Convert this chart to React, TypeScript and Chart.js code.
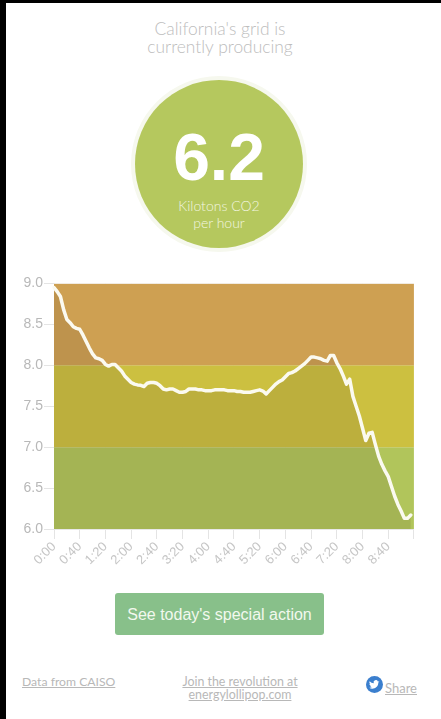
import React, { useEffect, useRef } from "react";
import { Chart, registerables } from "chart.js";

Chart.register(...registerables);

const timeLabels = [
  "0:00","0:05","0:10","0:15","0:20","0:25","0:30","0:35","0:40","0:45","0:50","0:55",
  "1:00","1:05","1:10","1:15","1:20","1:25","1:30","1:35","1:40","1:45","1:50","1:55",
  "2:00","2:05","2:10","2:15","2:20","2:25","2:30","2:35","2:40","2:45","2:50","2:55",
  "3:00","3:05","3:10","3:15","3:20","3:25","3:30","3:35","3:40","3:45","3:50","3:55",
  "4:00","4:05","4:10","4:15","4:20","4:25","4:30","4:35","4:40","4:45","4:50","4:55",
  "5:00","5:05","5:10","5:15","5:20","5:25","5:30","5:35","5:40","5:45","5:50","5:55",
  "6:00","6:05","6:10","6:15","6:20","6:25","6:30","6:35","6:40","6:45","6:50","6:55",
  "7:00","7:05","7:10","7:15","7:20","7:25","7:30","7:35","7:40","7:45","7:50","7:55",
  "8:00","8:05","8:10","8:15","8:20","8:25","8:30","8:35","8:40","8:45","8:50","8:55",
  "9:00","9:05","9:10","9:15","9:20",
];

const co2Values = [
  8.95,8.9,8.84,8.68,8.56,8.52,8.47,8.45,8.44,8.37,8.29,8.21,
  8.14,8.09,8.08,8.06,8.01,7.99,8.01,8.01,7.97,7.93,7.87,7.83,
  7.79,7.77,7.76,7.755,7.74,7.78,7.79,7.79,7.78,7.75,7.71,7.7,
  7.71,7.71,7.69,7.67,7.67,7.68,7.71,7.71,7.71,7.7,7.7,7.69,
  7.69,7.69,7.7,7.7,7.7,7.7,7.69,7.69,7.69,7.68,7.68,7.67,
  7.67,7.67,7.68,7.69,7.7,7.685,7.65,7.69,7.73,7.77,7.8,7.82,
  7.86,7.9,7.91,7.93,7.96,7.99,8.02,8.06,8.1,8.1,8.09,8.08,
  8.06,8.05,8.12,8.12,8.03,7.96,7.87,7.77,7.83,7.62,7.5,7.38,
  7.23,7.08,7.17,7.18,7.03,6.89,6.79,6.71,6.64,6.52,6.4,6.3,
  6.22,6.13,6.13,6.17,
];

const bandTops = [9, 8, 7];
const bandColors = ["#cea052", "#ccc040", "#b1c55b"];
const yTicks = [6, 6.5, 7, 7.5, 8, 8.5, 9];

export default function App() {
  const ref = useRef<HTMLCanvasElement>(null);
  useEffect(() => {
    document.body.style.margin = "0";
    document.body.style.background = "#fff";
    const bands = bandTops.map((top, i) => ({
      type: "line" as const,
      data: timeLabels.map(() => top),
      borderWidth: 0,
      pointRadius: 0,
      backgroundColor: bandColors[i],
      fill: i === bandTops.length - 1 ? "start" : "+1",
      order: 5,
    }));
    const chart = new Chart(ref.current!, {
      type: "line",
      data: {
        labels: timeLabels,
        datasets: [
          {
            data: co2Values,
            borderColor: "#fbfaf0",
            borderWidth: 3.5,
            borderJoinStyle: "round",
            borderCapStyle: "round",
            pointRadius: 0,
            tension: 0,
            fill: "start",
            backgroundColor: "rgba(70,60,40,0.12)",
            order: 1,
          },
          ...bands,
        ] as any,
      },
      options: {
        animation: false,
        responsive: false,
        layout: { padding: 0 },
        plugins: { legend: { display: false }, tooltip: { enabled: false } },
        scales: {
          x: {
            offset: false,
            afterFit: (s: any) => { s.height = 65; },
            border: { color: "rgba(0,0,0,0.06)" },
            grid: {
              color: "rgba(0,0,0,0.02)",
              tickColor: "#e4e4e4",
              tickLength: 10,
            },
            ticks: {
              autoSkip: false,
              maxRotation: 45,
              minRotation: 45,
              padding: 0,
              color: "#c6c6c6",
              font: { family: "'Liberation Sans'", size: 13 },
              callback: (_v: any, i: number) =>
                i === timeLabels.length - 1 ? "" : i % 8 === 0 ? timeLabels[i] : null,
            },
          },
          y: {
            min: 6,
            max: 9,
            afterFit: (s: any) => { s.width = 44; },
            afterBuildTicks: (s: any) => { s.ticks = yTicks.map((value) => ({ value })); },
            border: { color: "rgba(0,0,0,0.05)" },
            grid: {
              color: "rgba(0,0,0,0.04)",
              tickColor: "#e4e4e4",
              tickLength: 10,
            },
            ticks: {
              padding: 1,
              color: "#b8b8b8",
              font: { family: "'Liberation Sans'", size: 14 },
              callback: (v: any) => Number(v).toFixed(1),
            },
          },
        },
      },
    });
    return () => chart.destroy();
  }, []);

  const raleway = "Lato, 'Open Sans', sans-serif";
  const abs = (o: React.CSSProperties): React.CSSProperties => ({ position: "absolute", ...o });
  const center = (y: number, cx: number, size: number, color: string, extra: React.CSSProperties = {}): React.CSSProperties =>
    abs({ left: cx - 150, width: 300, top: y - size, height: size * 2, lineHeight: `${size * 2}px`, textAlign: "center", fontSize: size, color, fontFamily: raleway, ...extra });

  return (
    <div style={{ position: "relative", width: 441, height: 719, overflow: "hidden", background: "#fff", filter: "blur(0.5px)" }}>
      <div style={center(29, 220, 17.4, "#bdbdbd", { fontWeight: 300 })}>California's grid is</div>
      <div style={center(47, 220, 17.4, "#bdbdbd", { fontWeight: 300 })}>currently producing</div>
      <div style={abs({ left: 131, top: 76, width: 176, height: 176, borderRadius: "50%", background: "#f6f8ee" })} />
      <div style={abs({ left: 135, top: 80, width: 168, height: 168, borderRadius: "50%", background: "#b5c85e" })} />
      <div style={center(157, 219, 66, "#fff", { fontFamily: "'Liberation Sans'", fontWeight: 700 })}>6.2</div>
      <div style={center(206, 219, 14, "#f3f6e0", { fontWeight: 300 })}>Kilotons CO2</div>
      <div style={center(223, 219, 14, "#f3f6e0", { fontWeight: 300 })}>per hour</div>
      <canvas ref={ref} width={415} height={320} style={abs({ left: 10, top: 274, width: 415, height: 320 })} />
      <div style={abs({ left: 115, top: 593, width: 209, height: 42, borderRadius: 3, background: "#88c08a", color: "#f2f8ee", fontFamily: "'Liberation Sans'", fontSize: 16, lineHeight: "43px", textAlign: "center" })}>
        See today's special action
      </div>
      <div style={abs({ left: 22, top: 674, fontSize: 12.2, lineHeight: "16px", color: "#b8b8b8", textDecoration: "underline", fontFamily: raleway })}>Data from CAISO</div>
      <div style={center(682, 240, 12.4, "#b8b8b8", { textDecoration: "underline" })}>Join the revolution at</div>
      <div style={center(695, 240, 12.4, "#b8b8b8", { textDecoration: "underline" })}>energylollipop.com</div>
      <svg style={abs({ left: 366, top: 676 })} width="17" height="17" viewBox="0 0 24 24">
        <circle cx="12" cy="12" r="12" fill="#3b7fce" />
        <path d="M19 8c-.5.3-1 .4-1.600.5.600-.4 1-.9 1.200-1.500-.5.300-1.100.6-1.800.7A2.800 2.800 0 0 0 11 10.300C8.700 10.200 6.600 9.100 5.200 7.400c-.8 1.300-.4 3 .9 3.800-.5 0-.9-.1-1.300-.4 0 1.400 1 2.500 2.300 2.800-.4.100-.9.100-1.300 0 .4 1.100 1.400 1.900 2.700 2-1.100.9-2.500 1.300-4 1.100 4.800 3 12.900.6 12.900-7.400.7-.5 1.200-1 1.600-1.600z" fill="#fff" />
      </svg>
      <div style={abs({ left: 385, top: 680, fontSize: 13, lineHeight: "16px", color: "#b8b8b8", textDecoration: "underline", fontFamily: raleway })}>Share</div>
      <div style={abs({ left: 0, top: 0, width: 6, height: 719, background: "#000" })} />
      <div style={abs({ left: 0, top: 0, width: 441, height: 3, background: "#000" })} />
    </div>
  );
}
